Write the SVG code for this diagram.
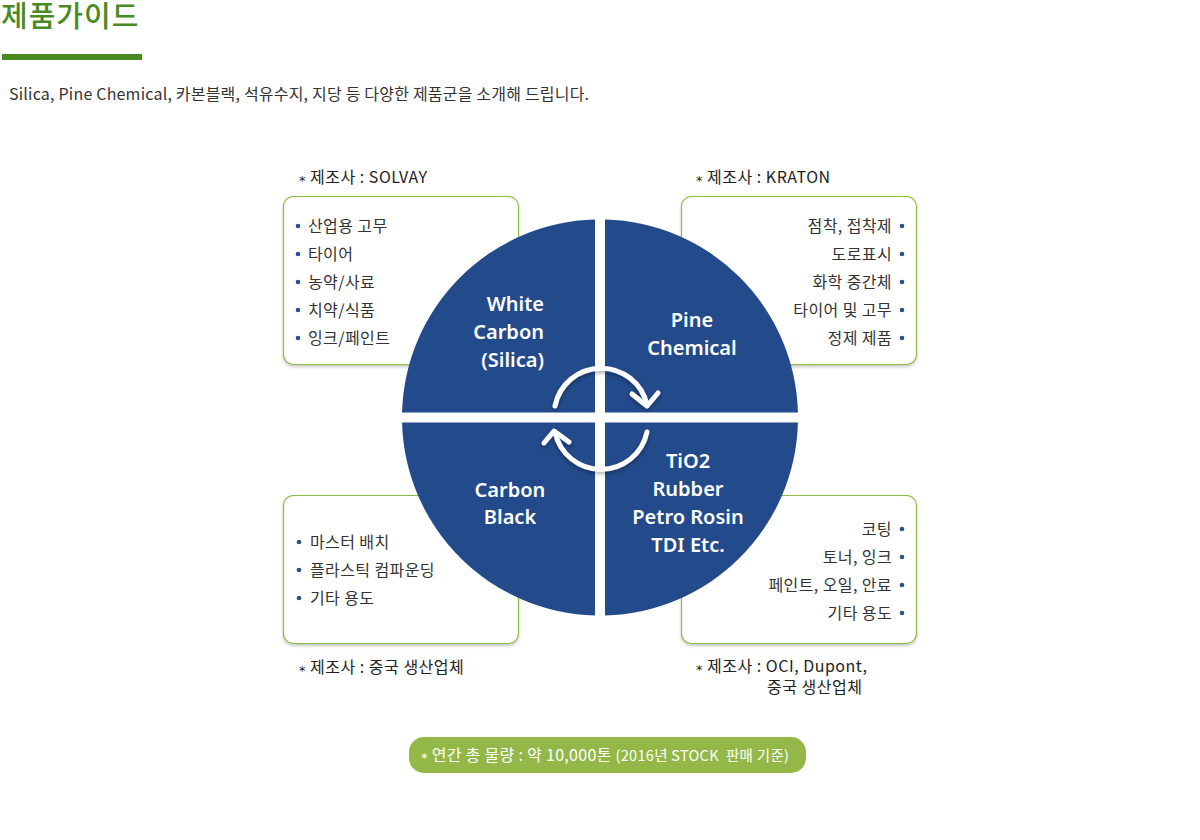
<svg xmlns="http://www.w3.org/2000/svg" width="1200" height="840" viewBox="0 0 1200 840">
<style>
  .kr{font-family:"Noto Sans CJK KR","Noto Sans",sans-serif;}
  .item{font-family:"Noto Sans CJK KR","Noto Sans",sans-serif;font-size:16px;letter-spacing:0.4px;fill:#333;}
  .mfr{font-family:"Noto Sans CJK KR","Noto Sans",sans-serif;font-size:16px;letter-spacing:0.5px;fill:#222;}
  .ast{font-family:"DejaVu Sans",sans-serif;font-size:13px;}
  .quad{fill:#234a8b;}
  .qt{font-family:"Noto Sans","Open Sans",sans-serif;font-weight:600;font-size:20px;fill:#fff;}
  .box{fill:#fff;stroke:#8fbc43;stroke-width:1.2;}
  .dot{fill:#2a4f8e;}
  .arr{fill:none;stroke:#fff;stroke-width:5;stroke-linecap:round;stroke-linejoin:round;}
</style>
<defs>
  <filter id="sh" x="-10%" y="-10%" width="120%" height="125%">
    <feDropShadow dx="0" dy="2" stdDeviation="1.5" flood-color="#000" flood-opacity="0.22"/>
  </filter>
  <filter id="ash" x="-20%" y="-20%" width="140%" height="140%">
    <feDropShadow dx="0" dy="2" stdDeviation="2" flood-color="#000" flood-opacity="0.35"/>
  </filter>
</defs>
<rect width="1200" height="840" fill="#fff"/>

<g id="header">
  <text x="1" y="27" class="kr" font-size="29" font-weight="500" letter-spacing="1" fill="#4a8a22">제품가이드</text>
  <rect x="2" y="54" width="140" height="6" fill="#4a8a22"/>
  <text x="9" y="100" class="kr" font-size="16" letter-spacing="0.2" fill="#333">Silica, Pine Chemical, 카본블랙, 석유수지, 지당 등 다양한 제품군을 소개해 드립니다.</text>
</g>

<g id="box-tl">
  <rect class="box" x="283.5" y="196.5" width="235" height="168" rx="10" filter="url(#sh)"/>
  <circle class="dot" cx="298" cy="226" r="2.3"/><text class="item" x="308" y="232">산업용 고무</text>
  <circle class="dot" cx="298" cy="254" r="2.3"/><text class="item" x="308" y="260">타이어</text>
  <circle class="dot" cx="298" cy="282" r="2.3"/><text class="item" x="308" y="288">농약/사료</text>
  <circle class="dot" cx="298" cy="310" r="2.3"/><text class="item" x="308" y="316">치약/식품</text>
  <circle class="dot" cx="298" cy="338" r="2.3"/><text class="item" x="308" y="344">잉크/페인트</text>
  <text class="mfr" x="299" y="183"><tspan class="ast" dy="1.5">*</tspan><tspan dy="-1.5"> 제조사 : SOLVAY</tspan></text>
</g>

<g id="box-tr">
  <rect class="box" x="681.5" y="196.5" width="235" height="168" rx="10" filter="url(#sh)"/>
  <g class="item" text-anchor="end">
    <text x="892" y="232">점착, 접착제</text>
    <text x="892" y="260">도로표시</text>
    <text x="892" y="288">화학 중간체</text>
    <text x="892" y="316">타이어 및 고무</text>
    <text x="892" y="344">정제 제품</text>
  </g>
  <circle class="dot" cx="902" cy="226" r="2.3"/>
  <circle class="dot" cx="902" cy="254" r="2.3"/>
  <circle class="dot" cx="902" cy="282" r="2.3"/>
  <circle class="dot" cx="902" cy="310" r="2.3"/>
  <circle class="dot" cx="902" cy="338" r="2.3"/>
  <text class="mfr" x="696" y="183"><tspan class="ast" dy="1.5">*</tspan><tspan dy="-1.5"> 제조사 : KRATON</tspan></text>
</g>

<g id="box-bl">
  <rect class="box" x="283.5" y="495.5" width="235" height="148" rx="10" filter="url(#sh)"/>
  <circle class="dot" cx="299" cy="542" r="2.3"/><text class="item" x="310" y="548">마스터 배치</text>
  <circle class="dot" cx="299" cy="570" r="2.3"/><text class="item" x="310" y="576">플라스틱 컴파운딩</text>
  <circle class="dot" cx="299" cy="598" r="2.3"/><text class="item" x="310" y="604">기타 용도</text>
  <text class="mfr" x="299" y="673"><tspan class="ast" dy="1.5">*</tspan><tspan dy="-1.5"> 제조사 : 중국 생산업체</tspan></text>
</g>

<g id="box-br">
  <rect class="box" x="681.5" y="495.5" width="235" height="148" rx="10" filter="url(#sh)"/>
  <g class="item" text-anchor="end">
    <text x="892" y="535">코팅</text>
    <text x="892" y="563">토너, 잉크</text>
    <text x="892" y="591">페인트, 오일, 안료</text>
    <text x="892" y="619">기타 용도</text>
  </g>
  <circle class="dot" cx="902" cy="529" r="2.3"/>
  <circle class="dot" cx="902" cy="557" r="2.3"/>
  <circle class="dot" cx="902" cy="585" r="2.3"/>
  <circle class="dot" cx="902" cy="613" r="2.3"/>
  <text class="mfr" x="696" y="672"><tspan class="ast" dy="1.5">*</tspan><tspan dy="-1.5"> 제조사 : OCI, Dupont,</tspan><tspan x="767" dy="21">중국 생산업체</tspan></text>
</g>

<g id="q-white-carbon">
  <path class="quad" d="M595,412.5 L402.06,412.5 A198,198 0 0 1 595,219.56 Z"/>
  <g class="qt" text-anchor="end">
    <text x="544" y="311">White</text>
    <text x="544" y="339">Carbon</text>
    <text x="544" y="367">(Silica)</text>
  </g>
</g>
<g id="q-pine-chemical">
  <path class="quad" d="M605,412.5 L605,219.56 A198,198 0 0 1 797.94,412.5 Z"/>
  <g class="qt" text-anchor="middle">
    <text x="692" y="327">Pine</text>
    <text x="692" y="355">Chemical</text>
  </g>
</g>
<g id="q-tio2">
  <path class="quad" d="M605,422.5 L797.94,422.5 A198,198 0 0 1 605,615.44 Z"/>
  <g class="qt" text-anchor="middle">
    <text x="688" y="468">TiO2</text>
    <text x="688" y="496">Rubber</text>
    <text x="688" y="524">Petro Rosin</text>
    <text x="688" y="552">TDI Etc.</text>
  </g>
</g>
<g id="q-carbon-black">
  <path class="quad" d="M595,422.5 L595,615.44 A198,198 0 0 1 402.06,422.5 Z"/>
  <g class="qt" text-anchor="middle">
    <text x="510" y="497">Carbon</text>
    <text x="510" y="524">Black</text>
  </g>
</g>

<g id="connectors" filter="url(#ash)">
  <path class="arr" d="M555,406 A47,47 0 0 1 647,405"/>
  <polyline class="arr" points="632,394 647,406 658,393"/>
  <path class="arr" d="M647,432 A47,47 0 0 1 555,432"/>
  <polyline class="arr" points="544,443 554,431 569,442"/>
</g>

<g id="total">
  <rect x="409" y="737" width="397" height="36" rx="15" fill="#94b847"/>
  <text x="421" y="761" class="kr" fill="#fff" font-size="16" letter-spacing="0.3" style="white-space:pre"><tspan class="ast" dy="1">*</tspan><tspan dy="-1"> 연간 총 물량 : 약 10,000톤 </tspan><tspan font-size="14.5">(2016년 STOCK  판매 기준)</tspan></text>
</g>
</svg>
